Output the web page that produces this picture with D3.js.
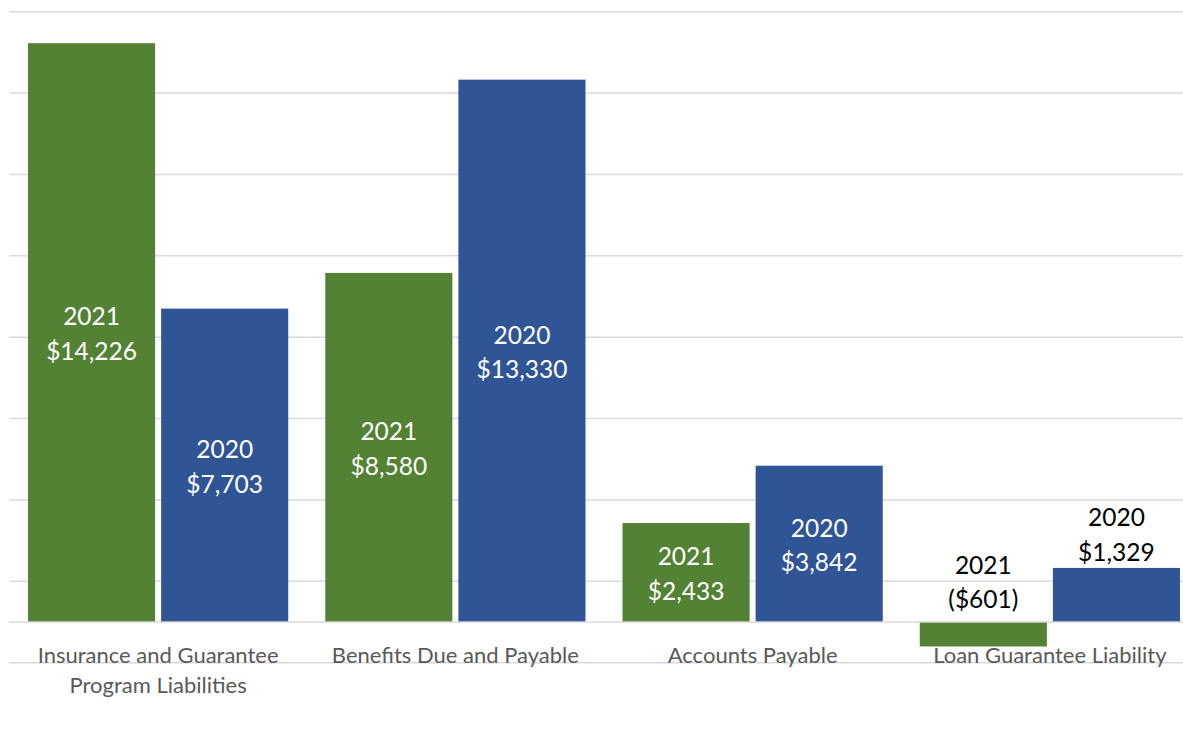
<!DOCTYPE html>
<html>
<head>
<meta charset="utf-8">
<script src="https://cdn.jsdelivr.net/npm/d3@7"></script>
<style>
  html, body { margin: 0; padding: 0; background: #fff; }
  svg { display: block; }
</style>
</head>
<body>
<svg id="chart" width="1183" height="737"></svg>
<script>
const categories = ["Insurance and Guarantee Program Liabilities", "Benefits Due and Payable", "Accounts Payable", "Loan Guarantee Liability"];
const seriesNames = ["2021", "2020"];
const values2021 = [14226, 8580, 2433, -601];
const values2020 = [7703, 13330, 3842, 1329];
const gridValues = [-1000, 1000, 3000, 5000, 7000, 9000, 11000, 13000, 15000];

const colors = {"2021": "#548235", "2020": "#2F5597"};
const W = 1183, H = 737;
const svg = d3.select("#chart");

const plot = {left: 9.5, right: 1198.5, top: 11.7, bottom: 662.7};

const y = d3.scaleLinear().domain([-1000, 15000]).range([plot.bottom, plot.top]);
const pIn = 37 / 297;
const x0 = d3.scaleBand().domain(categories).range([plot.left, plot.right])
  .paddingInner(pIn).paddingOuter(pIn / 2);
const x1 = d3.scaleBand().domain(seriesNames).range([0, x0.bandwidth()])
  .paddingInner(6 / 133).paddingOuter(0);

// gridlines
svg.append("g").selectAll("line").data(gridValues).join("line")
  .attr("x1", plot.left).attr("x2", W)
  .attr("y1", d => y(d)).attr("y2", d => y(d))
  .attr("stroke", "#d9d9d9").attr("stroke-width", 1.5);

const data = [];
categories.forEach((c, i) => {
  data.push({cat: c, s: "2021", v: values2021[i]});
  data.push({cat: c, s: "2020", v: values2020[i]});
});

// bars
svg.append("g").selectAll("rect").data(data).join("rect")
  .attr("x", d => x0(d.cat) + x1(d.s))
  .attr("width", x1.bandwidth())
  .attr("y", d => y(Math.max(0, d.v)))
  .attr("height", d => Math.abs(y(d.v) - y(0)))
  .attr("fill", d => colors[d.s]);

// zero axis line
svg.append("line")
  .attr("x1", plot.left).attr("x2", W)
  .attr("y1", y(0)).attr("y2", y(0))
  .attr("stroke", "#d9d9d9").attr("stroke-width", 1.5);

const fmt = v => v < 0 ? "($" + d3.format(",")(-v) + ")" : "$" + d3.format(",")(v);
const lineH = 34.5;
const lbl = svg.append("g").attr("font-family", "Lato, 'Open Sans', sans-serif")
  .attr("font-size", 24.5).attr("text-anchor", "middle");

data.forEach(d => {
  const cx = x0(d.cat) + x1(d.s) + x1.bandwidth() / 2;
  const inside = Math.abs(d.v) >= 2000;
  let cy;
  if (inside) {
    cy = (y(d.v) + y(0)) / 2;
  } else if (d.v >= 0) {
    cy = y(d.v) - 17 - lineH / 2;
  } else {
    cy = y(0) - 24 - lineH / 2;
  }
  const t = lbl.append("text").attr("fill", inside ? "#fff" : "#000")
    .attr("dominant-baseline", "central");
  t.append("tspan").attr("x", cx).attr("y", cy - lineH / 2).text(d.s);
  t.append("tspan").attr("x", cx).attr("y", cy + lineH / 2).text(fmt(d.v));
});

// category labels
const catG = svg.append("g").attr("font-family", "Lato, 'Open Sans', sans-serif")
  .attr("font-size", 22).attr("fill", "#595959").attr("text-anchor", "middle");
categories.forEach(c => {
  const cx = x0(c) + x0.bandwidth() / 2;
  const t = catG.append("text").attr("dominant-baseline", "central");
  const words = c.split(" ");
  let lines = [], cur = [];
  const tmp = t.append("tspan");
  words.forEach(w => {
    const test = cur.concat([w]).join(" ");
    tmp.text(test);
    if (tmp.node().getComputedTextLength() > 285 && cur.length) {
      lines.push(cur.join(" "));
      cur = [w];
    } else cur.push(w);
  });
  lines.push(cur.join(" "));
  tmp.remove();
  lines.forEach((l, k) => {
    t.append("tspan").attr("x", cx).attr("y", 654 + k * 30).text(l);
  });
});
</script>
</body>
</html>
